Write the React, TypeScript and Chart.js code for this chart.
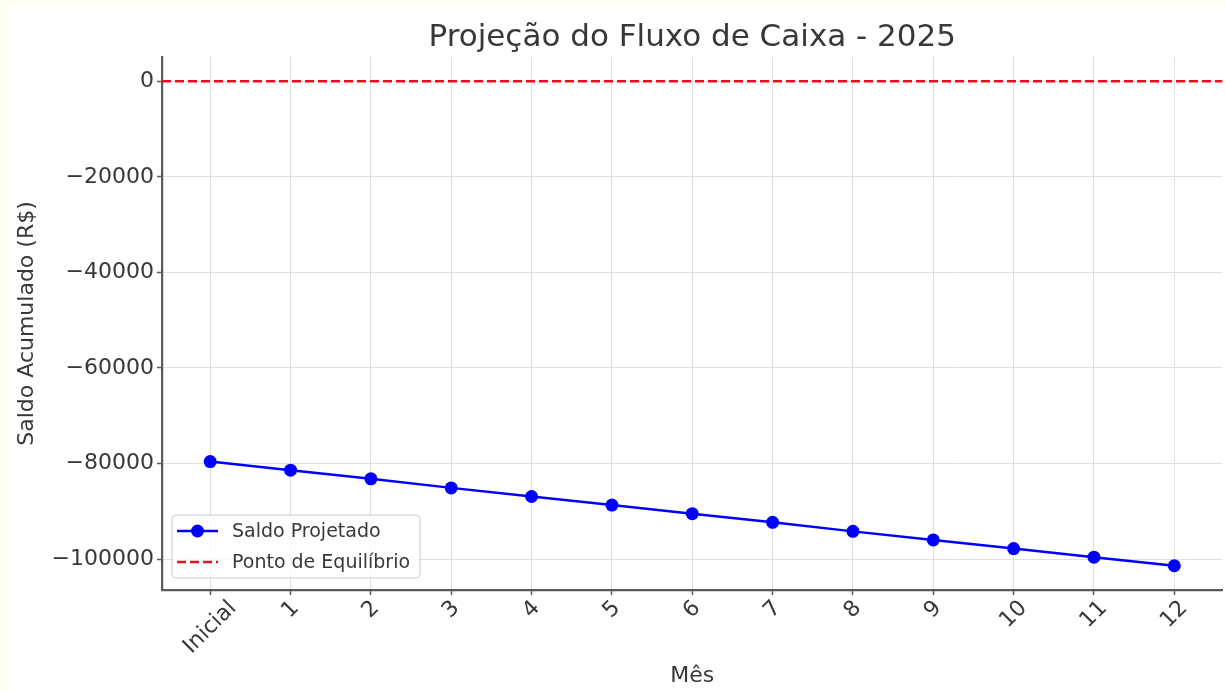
import { useEffect, useRef } from "react";
import { Chart, registerables } from "chart.js";

Chart.register(...registerables);

// ---- data ----
const categories = ["Inicial", "1", "2", "3", "4", "5", "6", "7", "8", "9", "10", "11", "12"];
const saldoProjetado = [-79600, -81400, -83200, -85100, -86900, -88700, -90500, -92300, -94200, -96000, -97800, -99600, -101400];
const pontoEquilibrio = 0;
const yTickValues = [-100000, -80000, -60000, -40000, -20000, 0];
const seriesLabels = ["Saldo Projetado", "Ponto de Equilíbrio"];
const chartTitle = "Projeção do Fluxo de Caixa - 2025";
const xAxisTitle = "Mês";
const yAxisTitle = "Saldo Acumulado (R$)";
const xRange = [-0.6, 12.6];
const yRange = [-106470, 5070];

// ---- styles ----
const FONT = '"DejaVu Sans", sans-serif';
const TEXT = "#383838";
const BLUE = "#0000ff";
const RED = "#e8101e";
const SPINE = "#5a5a5a";
const GRID = "#e0e0e0";
const TICK_SIZE = 22;
const XTICK_SIZE = 22;
const TITLE_SIZE = 31;
const LABEL_SIZE = 22;
const LEGEND_SIZE = 19;

const titlePlugin = {
  id: "centeredTitle",
  afterDraw(chart: any) {
    const { ctx, chartArea } = chart;
    ctx.save();
    ctx.font = `${TITLE_SIZE}px ${FONT}`;
    ctx.fillStyle = TEXT;
    ctx.textAlign = "center";
    ctx.textBaseline = "alphabetic";
    ctx.fillText(chartTitle, (chartArea.left + chartArea.right) / 2, 38);
    ctx.restore();
  },
};

const xLabelsPlugin = {
  id: "rotatedXLabels",
  afterDraw(chart: any) {
    const { ctx, chartArea } = chart;
    const xs = chart.scales.x;
    ctx.save();
    ctx.font = `${XTICK_SIZE}px ${FONT}`;
    ctx.fillStyle = TEXT;
    ctx.textAlign = "center";
    ctx.textBaseline = "middle";
    categories.forEach((lab, i) => {
      const x = xs.getPixelForValue(i);
      const w = ctx.measureText(lab).width;
      const h = XTICK_SIZE;
      const half = (w + h) / (2 * Math.SQRT2);
      ctx.save();
      ctx.translate(x, chartArea.bottom + 7 + half);
      ctx.rotate(-Math.PI / 4);
      ctx.fillText(lab, 0, 0);
      ctx.restore();
    });
    ctx.restore();
  },
};

const legendPlugin = {
  id: "insideLegend",
  afterDraw(chart: any) {
    const { ctx, chartArea } = chart;
    ctx.save();
    ctx.font = `${LEGEND_SIZE}px ${FONT}`;
    const textW = Math.max(...seriesLabels.map((s) => ctx.measureText(s).width));
    const left = chartArea.left + 10;
    const height = 63;
    const top = chartArea.bottom - 12 - height;
    const width = 60 + textW + 10;
    ctx.beginPath();
    ctx.roundRect(left, top, width, height, 4);
    ctx.fillStyle = "rgba(255,255,255,0.8)";
    ctx.fill();
    ctx.strokeStyle = "#cccccc";
    ctx.lineWidth = 1;
    ctx.stroke();

    const rows = [top + 16, top + 47];
    chart.data.datasets.forEach((ds: any, i: number) => {
      const y = rows[i];
      const x0 = left + 5;
      const x1 = left + 46;
      ctx.beginPath();
      ctx.setLineDash(ds.borderDash || []);
      ctx.strokeStyle = ds.borderColor;
      ctx.lineWidth = ds.borderWidth;
      ctx.moveTo(x0, y);
      ctx.lineTo(x1, y);
      ctx.stroke();
      ctx.setLineDash([]);
      if (ds.pointRadius > 0) {
        ctx.beginPath();
        ctx.arc((x0 + x1) / 2, y, ds.pointRadius, 0, Math.PI * 2);
        ctx.fillStyle = ds.pointBackgroundColor;
        ctx.fill();
      }
      ctx.fillStyle = TEXT;
      ctx.textAlign = "left";
      ctx.textBaseline = "middle";
      ctx.fillText(ds.label, left + 60, y + 1);
    });
    ctx.restore();
  },
};

export default function App() {
  const canvasRef = useRef<HTMLCanvasElement | null>(null);

  useEffect(() => {
    document.documentElement.style.overflow = "hidden";
    document.body.style.background = "#fffef2";
    const canvas = canvasRef.current;
    if (!canvas) return;
    const chart = new Chart(canvas, {
      type: "line",
      data: {
        datasets: [
          {
            label: seriesLabels[0],
            data: saldoProjetado.map((v, i) => ({ x: i, y: v })),
            borderColor: BLUE,
            backgroundColor: BLUE,
            pointBackgroundColor: BLUE,
            pointBorderColor: BLUE,
            borderWidth: 2.5,
            pointRadius: 6.5,
            pointBorderWidth: 0,
            tension: 0,
          },
          {
            label: seriesLabels[1],
            data: [
              { x: xRange[0], y: pontoEquilibrio },
              { x: xRange[1], y: pontoEquilibrio },
            ],
            borderColor: RED,
            backgroundColor: RED,
            pointBackgroundColor: RED,
            borderWidth: 2.5,
            borderDash: [9, 4],
            pointRadius: 0,
          },
        ],
      },
      options: {
        animation: false,
        responsive: false,
        maintainAspectRatio: false,
        devicePixelRatio: 1,
        layout: { padding: { top: 49, left: 0, right: 0, bottom: 0 } },
        plugins: {
          legend: { display: false },
          title: { display: false },
          tooltip: { enabled: false },
        },
        scales: {
          x: {
            type: "linear",
            min: xRange[0],
            max: xRange[1],
            afterBuildTicks: (s: any) => {
              s.ticks = categories.map((_, i) => ({ value: i }));
            },
            afterFit: (s: any) => {
              s.height = 101;
            },
            ticks: { display: false },
            grid: { color: GRID, lineWidth: 1, tickLength: 5, tickColor: SPINE, tickWidth: 1.5 },
            border: { display: true, color: SPINE, width: 2.2 },
            title: {
              display: true,
              text: xAxisTitle,
              color: TEXT,
              font: { family: FONT, size: LABEL_SIZE },
              padding: { top: 0, bottom: 2 },
            },
          },
          y: {
            type: "linear",
            min: yRange[0],
            max: yRange[1],
            afterBuildTicks: (s: any) => {
              s.ticks = yTickValues.map((v) => ({ value: v }));
            },
            afterFit: (s: any) => {
              s.width = 154;
            },
            ticks: {
              color: TEXT,
              font: { family: FONT, size: TICK_SIZE },
              padding: 3,
              callback: (v: any) => (v < 0 ? "\u2212" + Math.abs(v) : String(v)),
            },
            grid: { color: GRID, lineWidth: 1, tickLength: 5, tickColor: SPINE, tickWidth: 1.5 },
            border: { display: true, color: SPINE, width: 2.2 },
            title: {
              display: true,
              text: yAxisTitle,
              color: TEXT,
              font: { family: FONT, size: LABEL_SIZE },
              padding: { top: 6, bottom: 0 },
            },
          },
        },
      },
      plugins: [titlePlugin, xLabelsPlugin, legendPlugin],
    } as any);
    return () => chart.destroy();
  }, []);

  return (
    <div
      style={{
        position: "fixed",
        left: 8,
        top: 8,
        width: 1218,
        height: 683,
        overflow: "hidden",
        background: "#ffffff",
      }}
    >
      <canvas ref={canvasRef} width={1221} height={683} style={{ display: "block" }} />
    </div>
  );
}
